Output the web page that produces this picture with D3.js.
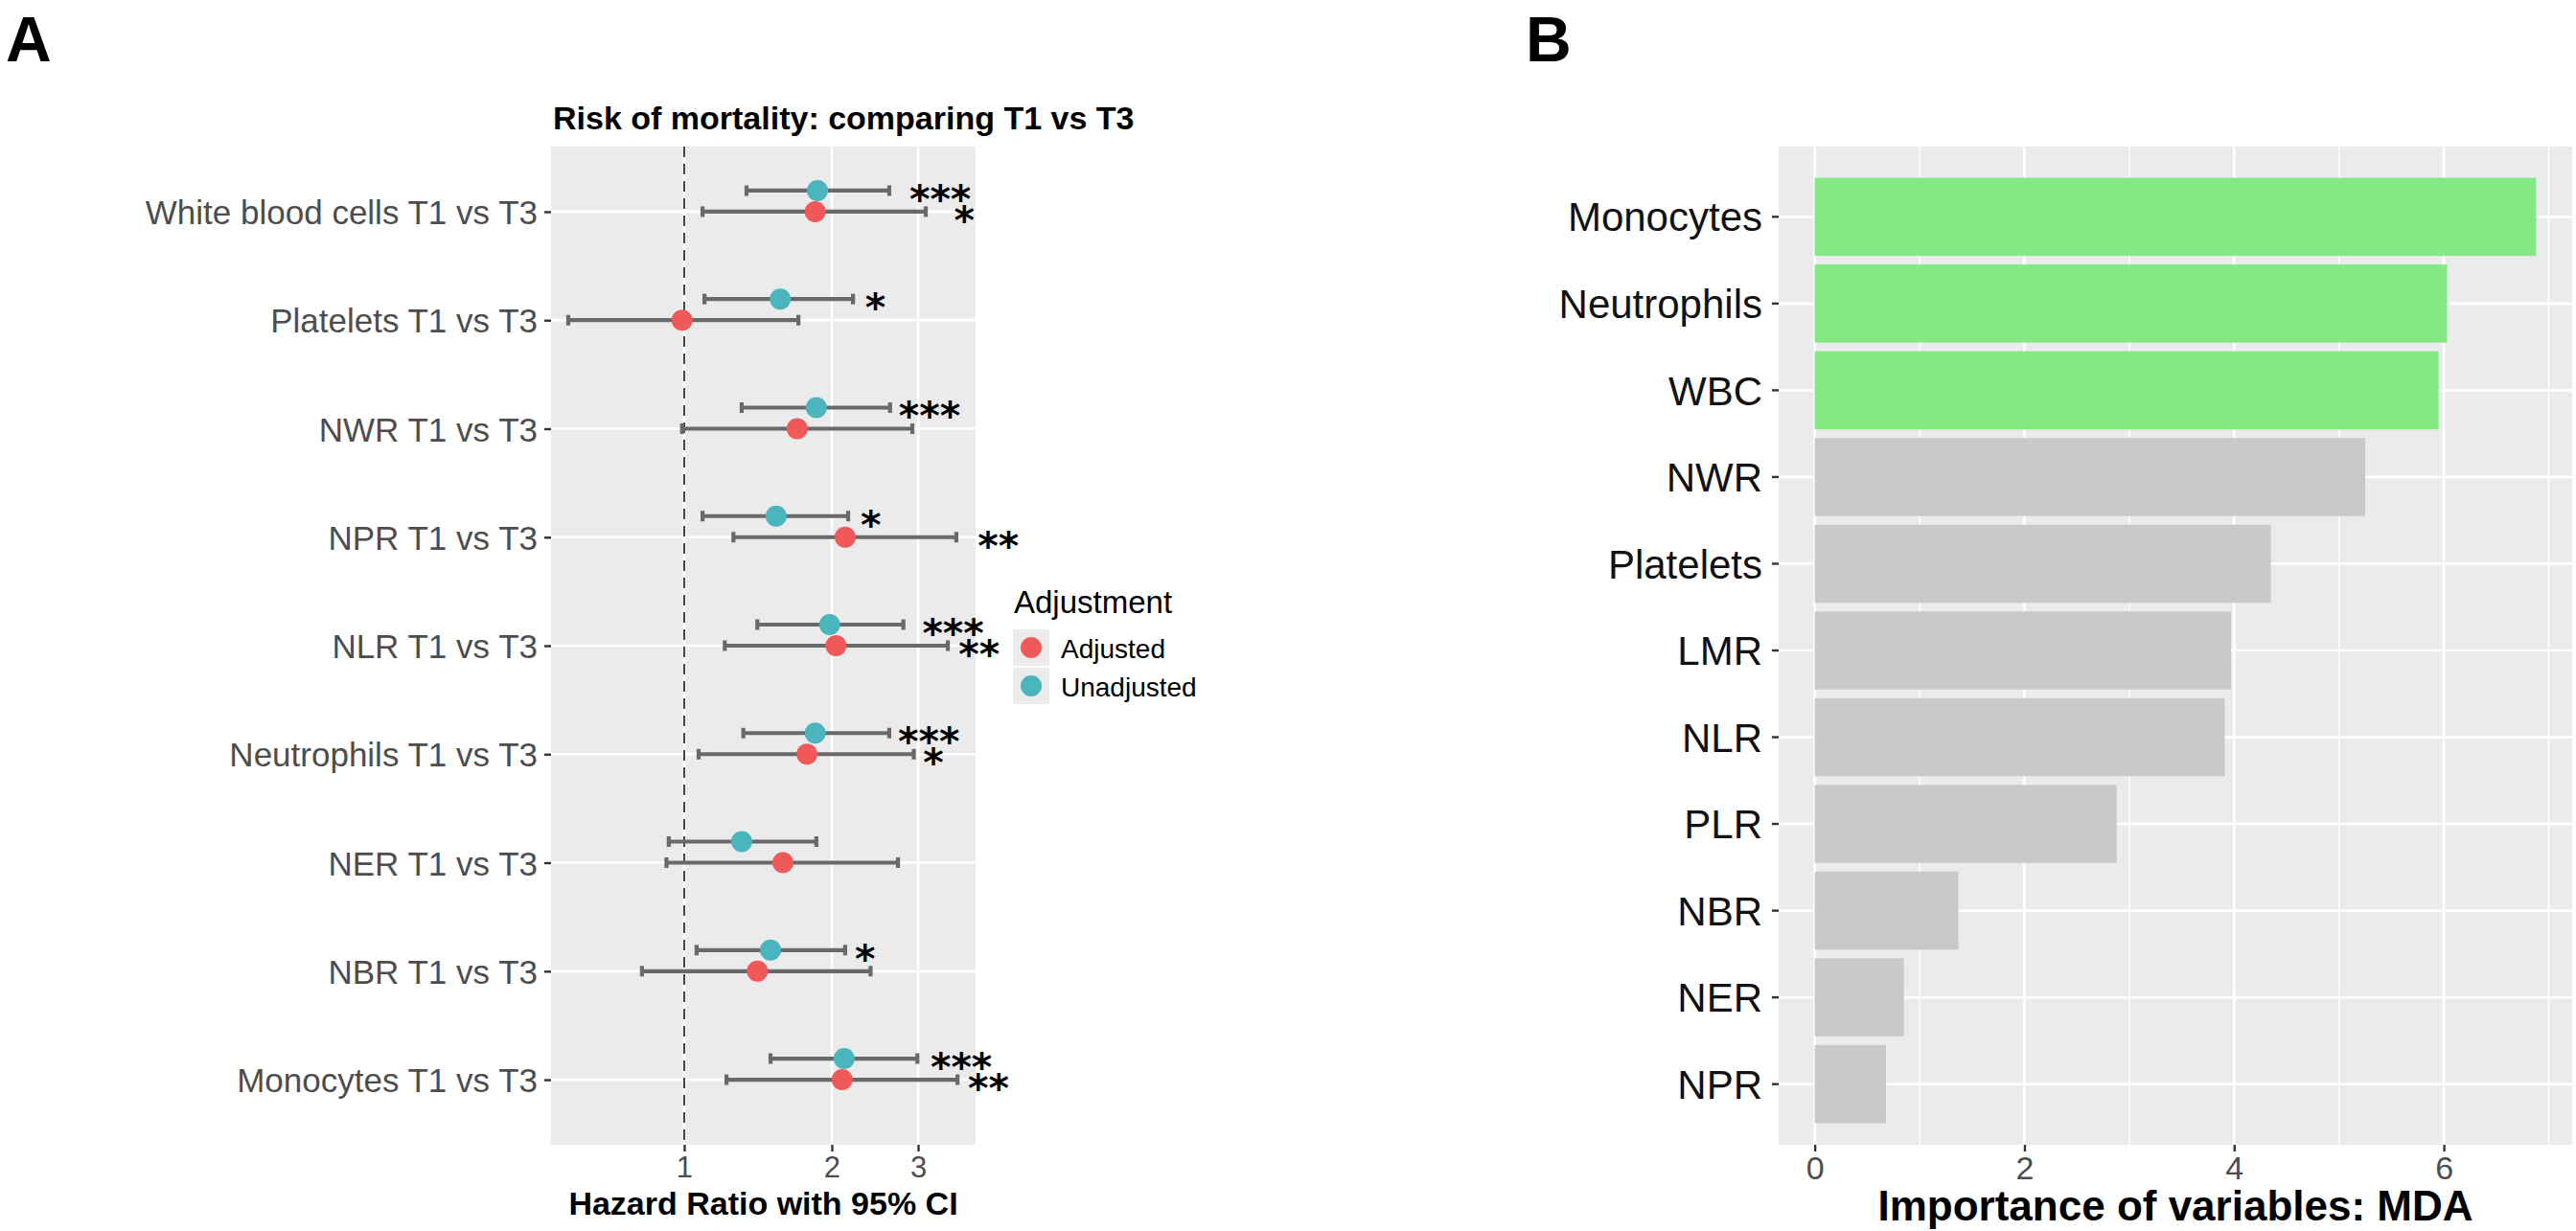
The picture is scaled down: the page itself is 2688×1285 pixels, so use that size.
<!DOCTYPE html>
<html>
<head>
<meta charset="utf-8">
<script src="https://cdn.jsdelivr.net/npm/d3@7"></script>
<style>
  body { margin: 0; background: #fff; }
  svg { display: block; }
  text { font-family: "Liberation Sans", Arial, sans-serif; }
</style>
</head>
<body>
<svg id="chart"></svg>
<script>
// ---- panel A data: hazard ratios, T1 vs T3 ----
const rows = [
  "White blood cells T1 vs T3",
  "Platelets T1 vs T3",
  "NWR T1 vs T3",
  "NPR T1 vs T3",
  "NLR T1 vs T3",
  "Neutrophils T1 vs T3",
  "NER T1 vs T3",
  "NBR T1 vs T3",
  "Monocytes T1 vs T3"
];
const unadjHR = [1.87, 1.57, 1.86, 1.54, 1.98, 1.85, 1.31, 1.50, 2.12];
const unadjLo = [1.34, 1.10, 1.31, 1.09, 1.41, 1.32, 0.93, 1.06, 1.50];
const unadjHi = [2.62, 2.21, 2.63, 2.16, 2.80, 2.62, 1.86, 2.13, 2.99];
const unadjSig = ["***", "*", "***", "*", "***", "***", "", "*", "***"];
const unadjSigAt = [2.88, 2.34, 2.74, 2.29, 3.06, 2.73, null, 2.23, 3.18];

const adjHR = [1.85, 0.99, 1.70, 2.13, 2.04, 1.78, 1.59, 1.41, 2.10];
const adjLo = [1.09, 0.58, 0.99, 1.26, 1.21, 1.07, 0.92, 0.82, 1.22];
const adjHi = [3.11, 1.71, 2.92, 3.59, 3.45, 2.94, 2.73, 2.40, 3.61];
const adjSig = ["*", "", "", "**", "**", "*", "", "", "**"];
const adjSigAt = [3.55, null, null, 3.97, 3.63, 3.07, null, null, 3.79];

const hrTicks = [1, 2, 3];
const groups = ["Adjusted", "Unadjusted"];

// ---- panel B data: variable importance (MDA) ----
const mdaVars = ["Monocytes", "Neutrophils", "WBC", "NWR", "Platelets", "LMR", "NLR", "PLR", "NBR", "NER", "NPR"];
const mdaValues = [6.88, 6.03, 5.95, 5.25, 4.35, 3.97, 3.91, 2.88, 1.37, 0.85, 0.68];
const mdaTop = ["Monocytes", "Neutrophils", "WBC"];
const mdaTicks = [0, 2, 4, 6];

const W = 2688, H = 1285;
const svg = d3.select("#chart").attr("width", W).attr("height", H);
svg.append("rect").attr("width", W).attr("height", H).attr("fill", "#fff");

const colors = { Adjusted: "#F0595A", Unadjusted: "#4AB5BD" };
const panelBg = "#EBEBEB";
const tickColor = "#333333";
const labelGrey = "#4D4D4D";

// ================= panel A =================
const pA = { left: 575, right: 1018, top: 153, bottom: 1195 };

const xA = d3.scaleLog().domain([0.535, 3.93]).range([pA.left, pA.right]);
const yA = d3.scalePoint().domain(rows).range([pA.top, pA.bottom]).padding(0.6);
const dodge = { Adjusted: 0, Unadjusted: -22 };

const forest = rows.flatMap((r, i) => [
  { row: r, group: "Adjusted", hr: adjHR[i], lo: adjLo[i], hi: adjHi[i], sig: adjSig[i], sigAt: adjSigAt[i] },
  { row: r, group: "Unadjusted", hr: unadjHR[i], lo: unadjLo[i], hi: unadjHi[i], sig: unadjSig[i], sigAt: unadjSigAt[i] }
]);

const gA = svg.append("g");
gA.append("rect")
  .attr("x", pA.left).attr("y", pA.top)
  .attr("width", pA.right - pA.left).attr("height", pA.bottom - pA.top)
  .attr("fill", panelBg);

// grid
gA.selectAll(".hgrid").data(rows).enter().append("line")
  .attr("x1", pA.left).attr("x2", pA.right)
  .attr("y1", d => yA(d)).attr("y2", d => yA(d))
  .attr("stroke", "#fff").attr("stroke-width", 2.7);
gA.selectAll(".vgrid").data(hrTicks).enter().append("line")
  .attr("x1", d => xA(d)).attr("x2", d => xA(d))
  .attr("y1", pA.top).attr("y2", pA.bottom)
  .attr("stroke", "#fff").attr("stroke-width", 2.7);

// reference line at HR = 1
gA.append("line")
  .attr("x1", xA(1)).attr("x2", xA(1))
  .attr("y1", pA.top).attr("y2", pA.bottom)
  .attr("stroke", "#333").attr("stroke-width", 1.8)
  .attr("stroke-dasharray", "11,7");

// axes
const yAxisA = gA.append("g").attr("transform", `translate(${pA.left},0)`)
  .call(d3.axisLeft(yA).tickSize(7).tickPadding(7));
yAxisA.select(".domain").remove();
yAxisA.selectAll(".tick line").attr("stroke", tickColor).attr("stroke-width", 2.4);
yAxisA.selectAll(".tick text")
  .attr("fill", labelGrey).attr("font-size", 35).attr("dy", "0.36em")
  .style("font-family", "'Liberation Sans', Arial, sans-serif");

const xAxisA = gA.append("g").attr("transform", `translate(0,${pA.bottom})`)
  .call(d3.axisBottom(xA).tickValues(hrTicks).tickFormat(d3.format("d")).tickSize(7).tickPadding(5));
xAxisA.select(".domain").remove();
xAxisA.selectAll(".tick line").attr("stroke", tickColor).attr("stroke-width", 2.4);
xAxisA.selectAll(".tick text")
  .attr("fill", labelGrey).attr("font-size", 31)
  .style("font-family", "'Liberation Sans', Arial, sans-serif");

// error bars
const bars = gA.selectAll(".eb").data(forest).enter().append("g")
  .attr("transform", d => `translate(0,${yA(d.row) + dodge[d.group]})`);
bars.append("line")
  .attr("x1", d => xA(d.lo)).attr("x2", d => xA(d.hi))
  .attr("stroke", "#696969").attr("stroke-width", 4.2);
bars.append("line")
  .attr("x1", d => xA(d.lo)).attr("x2", d => xA(d.lo))
  .attr("y1", -5.5).attr("y2", 5.5)
  .attr("stroke", "#696969").attr("stroke-width", 4.2);
bars.append("line")
  .attr("x1", d => xA(d.hi)).attr("x2", d => xA(d.hi))
  .attr("y1", -5.5).attr("y2", 5.5)
  .attr("stroke", "#696969").attr("stroke-width", 4.2);

// points
bars.append("circle")
  .attr("cx", d => xA(d.hr)).attr("r", 11)
  .attr("fill", d => colors[d.group]);

// significance stars
bars.filter(d => d.sig).append("text")
  .attr("x", d => xA(d.sigAt))
  .attr("y", 23)
  .attr("font-size", 41)
  .attr("font-weight", "bold")
  .style("font-family", "'DejaVu Sans', sans-serif")
  .attr("fill", "#000")
  .text(d => d.sig);

// title + axis title
gA.append("text")
  .attr("x", pA.left + 2).attr("y", 135)
  .attr("font-size", 34).attr("font-weight", "bold")
  .text("Risk of mortality: comparing T1 vs T3");
gA.append("text")
  .attr("x", (pA.left + pA.right) / 2).attr("y", 1268)
  .attr("text-anchor", "middle")
  .attr("font-size", 34).attr("font-weight", "bold")
  .text("Hazard Ratio with 95% CI");

// legend
const lg = svg.append("g").attr("transform", "translate(1057,0)");
lg.append("text").attr("x", 1).attr("y", 640).attr("font-size", 33).text("Adjustment");
const keys = lg.selectAll(".key").data(groups).enter().append("g")
  .attr("transform", (d, i) => `translate(0,${657 + i * 40})`);
keys.append("rect").attr("width", 38).attr("height", 38).attr("fill", panelBg);
keys.append("circle").attr("cx", 19).attr("cy", 19).attr("r", 11).attr("fill", d => colors[d]);
keys.append("text").attr("x", 50).attr("y", 30).attr("font-size", 28).text(d => d);

// ================= panel B =================
const pB = { left: 1856, right: 2684, top: 153, bottom: 1195 };
const mdaMax = d3.max(mdaValues);
const xB = d3.scaleLinear().domain([-0.05 * mdaMax, mdaMax * 1.05]).range([pB.left, pB.right]);
const yB = d3.scaleBand().domain(mdaVars).range([172, 1186]).paddingInner(0.1).paddingOuter(0.15);

const gB = svg.append("g");
gB.append("rect")
  .attr("x", pB.left).attr("y", pB.top)
  .attr("width", pB.right - pB.left).attr("height", pB.bottom - pB.top)
  .attr("fill", panelBg);

const minorB = d3.range(1, 8, 2).filter(v => xB(v) < pB.right);
gB.selectAll(".vminor").data(minorB).enter().append("line")
  .attr("x1", d => xB(d)).attr("x2", d => xB(d))
  .attr("y1", pB.top).attr("y2", pB.bottom)
  .attr("stroke", "#fff").attr("stroke-width", 1.4);
gB.selectAll(".vgrid").data(mdaTicks).enter().append("line")
  .attr("x1", d => xB(d)).attr("x2", d => xB(d))
  .attr("y1", pB.top).attr("y2", pB.bottom)
  .attr("stroke", "#fff").attr("stroke-width", 2.7);
gB.selectAll(".hgrid").data(mdaVars).enter().append("line")
  .attr("x1", pB.left).attr("x2", pB.right)
  .attr("y1", d => yB(d) + yB.bandwidth() / 2).attr("y2", d => yB(d) + yB.bandwidth() / 2)
  .attr("stroke", "#fff").attr("stroke-width", 2.7);

gB.selectAll(".bar").data(mdaVars).enter().append("rect")
  .attr("x", xB(0))
  .attr("y", d => yB(d))
  .attr("width", (d, i) => xB(mdaValues[i]) - xB(0))
  .attr("height", yB.bandwidth())
  .attr("fill", d => mdaTop.includes(d) ? "#83EA83" : "#C9C9C9");

const yAxisB = gB.append("g").attr("transform", `translate(${pB.left},0)`)
  .call(d3.axisLeft(yB).tickSize(7).tickPadding(10));
yAxisB.select(".domain").remove();
yAxisB.selectAll(".tick line").attr("stroke", tickColor).attr("stroke-width", 2.4);
yAxisB.selectAll(".tick text")
  .attr("fill", "#111").attr("font-size", 42).attr("dy", "0.36em")
  .style("font-family", "'Liberation Sans', Arial, sans-serif");

const xAxisB = gB.append("g").attr("transform", `translate(0,${pB.bottom})`)
  .call(d3.axisBottom(xB).tickValues(mdaTicks).tickSize(7).tickPadding(5));
xAxisB.select(".domain").remove();
xAxisB.selectAll(".tick line").attr("stroke", tickColor).attr("stroke-width", 2.4);
xAxisB.selectAll(".tick text")
  .attr("fill", labelGrey).attr("font-size", 34)
  .style("font-family", "'Liberation Sans', Arial, sans-serif");

gB.append("text")
  .attr("x", (pB.left + pB.right) / 2).attr("y", 1274)
  .attr("text-anchor", "middle")
  .attr("font-size", 44).attr("font-weight", "bold")
  .text("Importance of variables: MDA");

// panel tags
svg.append("text").attr("x", 6).attr("y", 64).attr("font-size", 66).attr("font-weight", "bold").text("A");
svg.append("text").attr("x", 1592).attr("y", 64).attr("font-size", 66).attr("font-weight", "bold").text("B");
</script>
</body>
</html>
